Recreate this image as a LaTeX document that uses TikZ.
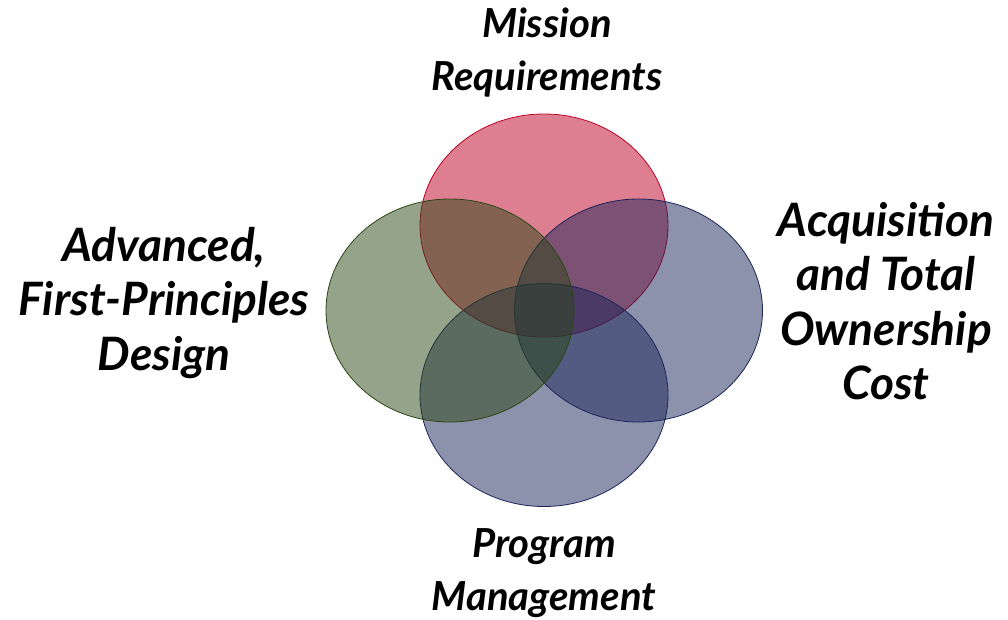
\documentclass[tikz,border=0pt]{standalone}
\usepackage{fontspec}
\setmainfont{Lato}
\definecolor{missred}{RGB}{190,0,35}
\definecolor{designgreen}{RGB}{43,71,21}
\definecolor{costblue}{RGB}{27,37,89}
\tikzset{blob/.style = {draw = #1, fill = #1, fill opacity = 0.5, line width = 0.8pt}}
\tikzset{biglabel/.style = {align = center, inner sep = 0, font = \fontsize{46}{54.5}\selectfont\bfseries\itshape}}
\tikzset{smalllabel/.style = {align = center, inner sep = 0, font = \fontsize{40}{53}\selectfont\bfseries\itshape}}

\begin{document}
\begin{tikzpicture}[x = 1pt, y = -1pt]
      \useasboundingbox (0, 0) rectangle (1008, 619);

      \draw [blob = missred] (544, 225.5) ellipse [x radius = 124pt, y radius = 111.5pt];
      \draw [blob = costblue] (638.5, 310.5) ellipse [x radius = 124pt, y radius = 111.5pt];
      \draw [blob = costblue] (544, 395) ellipse [x radius = 124pt, y radius = 111.5pt];
      \draw [blob = designgreen] (450, 310.5) ellipse [x radius = 124pt, y radius = 111.5pt];

      \node [smalllabel] (mission) at (547, 53) {Mission\\Requirements};
      \node [biglabel] (design) at (164, 303) {Advanced,\\First-Principles\\Design};
      \node [biglabel] (cost) at (886, 301) {Acquisition\\and Total\\Ownership\\Cost};
      \node [smalllabel] (program) at (544, 573) {Program\\Management};
    \end{tikzpicture}
\end{document}
